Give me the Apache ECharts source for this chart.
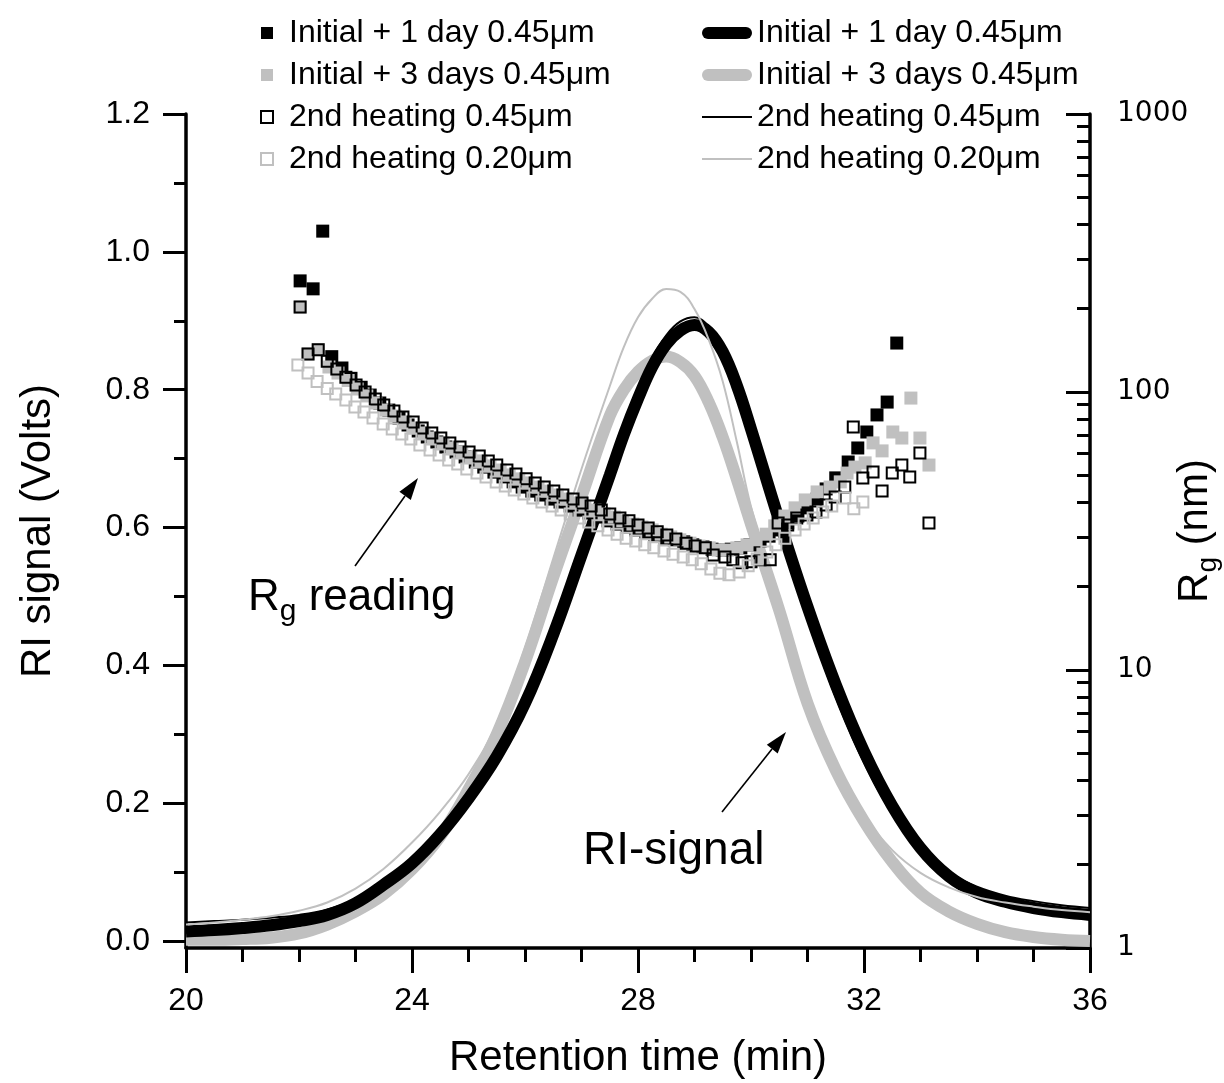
<!DOCTYPE html>
<html>
<head>
<meta charset="utf-8">
<script src="https://cdn.jsdelivr.net/npm/echarts@6/dist/echarts.min.js"></script>
<style>
html, body { margin: 0; padding: 0; background: #fff; }
#chart { width: 1224px; height: 1083px; }
</style>
</head>
<body>
<div id="chart"></div>
<script>
// series names (legend labels)
const nameDay1 = 'Initial + 1 day 0.45μm';
const nameDay3 = 'Initial + 3 days 0.45μm';
const nameHeat45 = '2nd heating 0.45μm';
const nameHeat20 = '2nd heating 0.20μm';

// RI signal (left axis, Volts) vs retention time (min)
const riTime = [20, 20.5, 21, 21.5, 22, 22.5, 23, 23.5, 24, 24.5, 25, 25.5, 26, 26.5, 27, 27.5,
  27.75, 28, 28.25, 28.5, 28.75, 29, 29.25, 29.5, 29.75, 30,
  30.5, 31, 31.5, 32, 32.5, 33, 33.5, 34, 34.5, 35, 35.5, 36];
const riDay1 = [0.014, 0.016, 0.019, 0.023, 0.029, 0.038, 0.055, 0.082, 0.113, 0.155, 0.207, 0.268, 0.345, 0.445, 0.560, 0.676,
  0.735, 0.787, 0.833, 0.866, 0.886, 0.894, 0.884, 0.855, 0.806, 0.743,
  0.610, 0.485, 0.372, 0.275, 0.196, 0.135, 0.094, 0.070, 0.057, 0.048, 0.042, 0.038];
const riDay3 = [0.002, 0.002, 0.003, 0.005, 0.011, 0.024, 0.043, 0.068, 0.104, 0.152, 0.220, 0.300, 0.405, 0.528, 0.645, 0.762,
  0.800, 0.826, 0.842, 0.848, 0.840, 0.820, 0.782, 0.731, 0.670, 0.605,
  0.480, 0.345, 0.248, 0.174, 0.115, 0.070, 0.043, 0.025, 0.013, 0.006, 0.002, 0.000];
const riHeat45 = [0.027, 0.029, 0.031, 0.034, 0.038, 0.046, 0.061, 0.086, 0.117, 0.160, 0.213, 0.275, 0.352, 0.455, 0.572, 0.690,
  0.748, 0.800, 0.846, 0.879, 0.899, 0.905, 0.892, 0.857, 0.803, 0.736,
  0.596, 0.468, 0.354, 0.259, 0.185, 0.132, 0.099, 0.079, 0.066, 0.058, 0.052, 0.048];
const riHeat20 = [0.024, 0.027, 0.031, 0.036, 0.044, 0.056, 0.076, 0.105, 0.143, 0.188, 0.242, 0.315, 0.425, 0.555, 0.685, 0.805,
  0.862, 0.905, 0.932, 0.946, 0.942, 0.917, 0.873, 0.812, 0.724, 0.630,
  0.490, 0.355, 0.258, 0.182, 0.132, 0.099, 0.078, 0.064, 0.056, 0.050, 0.045, 0.042];

// Rg readings (right log axis, nm): [time, Rg]
const rgDay1 = [[22.02, 251], [22.25, 235], [22.42, 379], [22.58, 134], [22.76, 122], [22.92, 112], [23.10, 104],
  [23.26, 97.5], [23.43, 91.3], [23.59, 86.1], [23.77, 80.6], [23.93, 76.1], [24.11, 72.4], [24.27, 68.9],
  [24.44, 66.1], [24.60, 63.4], [24.78, 60.8], [24.94, 58.4], [25.12, 56.0], [25.27, 53.7], [25.45, 51.5],
  [25.61, 49.5], [25.79, 47.5], [25.95, 45.5], [26.12, 44.0], [26.28, 42.6], [26.46, 41.2], [26.62, 40.2],
  [26.80, 38.9], [26.96, 37.6], [27.13, 36.7], [27.29, 35.5], [27.47, 34.4], [27.63, 33.5], [27.81, 32.7],
  [27.96, 31.9], [28.14, 31.1], [28.30, 30.6], [28.48, 29.8], [28.64, 29.4], [28.81, 28.9], [28.97, 28.2],
  [29.15, 27.7], [29.31, 27.2], [29.49, 27.0], [29.65, 27.2], [29.82, 27.5], [29.98, 28.2], [30.16, 29.1],
  [30.32, 30.3], [30.50, 31.9], [30.65, 33.8], [30.83, 35.8], [30.99, 38.3], [31.17, 41.2], [31.33, 44.8],
  [31.50, 49.1], [31.72, 56.0], [31.89, 62.9], [32.05, 71.8], [32.23, 82.7], [32.41, 92.0], [32.58, 150]];
const rgDay3 = [[22.02, 202], [22.16, 137], [22.34, 142], [22.53, 123], [22.69, 117], [22.87, 110], [23.03, 102.5],
  [23.20, 96.8], [23.36, 91.3], [23.54, 86.1], [23.70, 82.0], [23.88, 78.0], [24.04, 74.2], [24.21, 71.2],
  [24.37, 68.3], [24.55, 65.6], [24.71, 62.9], [24.88, 60.8], [25.04, 58.4], [25.22, 56.5], [25.38, 54.2],
  [25.56, 52.4], [25.72, 50.3], [25.89, 48.7], [26.05, 47.1], [26.23, 45.5], [26.39, 44.0], [26.57, 42.6],
  [26.73, 41.2], [26.90, 39.9], [27.06, 38.9], [27.24, 37.6], [27.40, 36.4], [27.58, 35.5], [27.73, 34.4],
  [27.91, 33.5], [28.07, 32.7], [28.25, 31.9], [28.41, 30.8], [28.58, 30.1], [28.74, 29.4], [28.92, 28.6],
  [29.08, 27.9], [29.26, 27.5], [29.42, 27.0], [29.59, 27.0], [29.75, 27.5], [29.93, 28.2], [30.09, 29.4],
  [30.27, 30.8], [30.42, 33.0], [30.60, 35.8], [30.78, 38.3], [30.96, 40.9], [31.17, 43.7], [31.40, 45.5],
  [31.58, 47.5], [31.70, 51.1], [31.84, 53.7], [32.02, 55.6], [32.16, 65.6], [32.32, 61.4], [32.51, 71.8],
  [32.67, 68.3], [32.83, 95.1], [32.99, 68.3], [33.15, 54.6]];
const rgHeat45 = [[22.02, 202], [22.16, 137], [22.34, 142], [22.50, 129], [22.67, 121], [22.83, 113], [23.01, 106],
  [23.17, 100], [23.35, 94.4], [23.50, 89.8], [23.68, 85.5], [23.84, 81.3], [24.02, 78.0], [24.18, 74.2],
  [24.35, 71.2], [24.51, 68.3], [24.67, 65.6], [24.85, 63.4], [25.01, 60.8], [25.19, 58.9], [25.35, 56.5],
  [25.50, 54.6], [25.68, 52.4], [25.84, 50.7], [26.02, 48.7], [26.18, 47.1], [26.34, 45.5], [26.51, 44.0],
  [26.67, 42.6], [26.85, 41.2], [27.01, 39.9], [27.17, 38.9], [27.35, 37.6], [27.50, 36.4], [27.68, 35.2],
  [27.84, 34.4], [28.00, 33.2], [28.18, 32.4], [28.34, 31.4], [28.51, 30.6], [28.67, 29.6], [28.85, 28.6],
  [29.01, 27.9], [29.19, 27.5], [29.33, 25.9], [29.54, 25.5], [29.68, 24.9], [29.84, 24.3], [30.00, 24.5],
  [30.16, 24.9], [30.34, 24.9], [30.48, 33.8], [30.65, 33.2], [30.81, 35.2], [30.99, 36.1], [31.15, 37.0],
  [31.33, 39.2], [31.49, 41.9], [31.66, 45.5], [31.81, 74.8], [31.98, 49.1], [32.16, 51.6], [32.32, 44.0],
  [32.50, 51.1], [32.67, 54.6], [32.81, 49.5], [32.99, 60.3], [33.15, 33.8]];
const rgHeat20 = [[21.98, 125], [22.16, 117], [22.32, 109], [22.50, 103], [22.65, 98.4], [22.83, 93.6], [22.99, 88.3],
  [23.15, 84.7], [23.31, 80.6], [23.49, 76.7], [23.65, 73.6], [23.82, 70.6], [23.98, 67.7], [24.14, 64.5],
  [24.32, 61.8], [24.48, 59.3], [24.65, 56.9], [24.81, 55.1], [24.97, 52.8], [25.15, 51.1], [25.31, 49.5],
  [25.49, 47.5], [25.65, 45.9], [25.81, 44.4], [25.98, 43.0], [26.14, 41.6], [26.30, 40.2], [26.48, 38.9],
  [26.64, 37.6], [26.80, 36.4], [26.97, 35.2], [27.13, 34.1], [27.29, 33.0], [27.47, 31.9], [27.63, 30.8],
  [27.79, 29.8], [27.96, 29.1], [28.12, 28.2], [28.28, 27.5], [28.46, 26.8], [28.62, 26.1], [28.80, 25.5],
  [28.96, 24.9], [29.12, 24.1], [29.29, 23.1], [29.45, 22.3], [29.61, 22.0], [29.79, 22.5], [29.95, 23.7],
  [30.11, 25.1], [30.28, 26.6], [30.44, 28.2], [30.60, 29.8], [30.78, 31.9], [30.94, 33.5], [31.10, 35.2],
  [31.27, 37.0], [31.43, 38.9], [31.66, 41.6], [31.82, 38.0], [31.98, 40.2]];

// axis ticks
const riTicks = [0, 0.2, 0.4, 0.6, 0.8, 1.0, 1.2];
const riMinorTicks = [0.1, 0.3, 0.5, 0.7, 0.9, 1.1];
const rgMinorTicks = [2, 3, 4, 5, 6, 7, 8, 9, 20, 30, 40, 50, 60, 70, 80, 90, 200, 300, 400, 500, 600, 700, 800, 900];

const FONT = '"Liberation Sans", Arial, sans-serif';
const BLACK = '#000000';
const GRAY = '#c0c0c0';

const chart = echarts.init(document.getElementById('chart'), null, { renderer: 'canvas' });

const squareIcon = 'path://M0,0H10V10H0Z';
const thickIcon = 'path://M6,0H44A6,6,0,0,1,44,12H6A6,6,0,0,1,6,0Z';
const thinIcon = 'path://M0,0H50V2H0Z';

const lineSeries = (name, values, color, width) => ({
  name: 'RI ' + name,
  type: 'line',
  xAxisIndex: 0,
  yAxisIndex: 0,
  data: riTime.map((t, i) => [t, values[i]]),
  symbol: 'none',
  smooth: 0.4,
  lineStyle: { color: color, width: width, opacity: 1 },
  itemStyle: { color: color },
  z: 2
});

const scatterSeries = (name, points, color, hollow) => ({
  name: name,
  type: 'scatter',
  xAxisIndex: 0,
  yAxisIndex: 1,
  data: points,
  symbol: 'rect',
  symbolSize: hollow ? 11 : 13,
  itemStyle: hollow
    ? { color: 'rgba(0,0,0,0)', borderColor: color, borderWidth: 2, opacity: 1 }
    : { color: color, opacity: 1 },
  z: 3
});

const option = {
  animation: false,
  backgroundColor: '#fff',
  textStyle: { fontFamily: FONT, color: BLACK },
  grid: { left: 186, right: 134, top: 114, bottom: 135, outerBoundsMode: 'none', containLabel: false },
  legend: [
    {
      orient: 'vertical',
      left: 255,
      top: 11,
      itemWidth: 34,
      itemHeight: 12,
      itemGap: 8,
      selectedMode: false,
      textStyle: { fontFamily: FONT, fontSize: 32, lineHeight: 34, color: BLACK },
      data: [
        { name: nameDay1, icon: squareIcon, itemStyle: { color: BLACK, opacity: 1 } },
        { name: nameDay3, icon: squareIcon, itemStyle: { color: GRAY, opacity: 1 } },
        { name: nameHeat45, icon: squareIcon, itemStyle: { color: 'rgba(0,0,0,0)', borderColor: BLACK, borderWidth: 2, opacity: 1 } },
        { name: nameHeat20, icon: squareIcon, itemStyle: { color: 'rgba(0,0,0,0)', borderColor: GRAY, borderWidth: 2, opacity: 1 } }
      ]
    },
    {
      orient: 'vertical',
      left: 697,
      top: 11,
      itemWidth: 50,
      itemHeight: 12,
      itemGap: 8,
      selectedMode: false,
      formatter: n => n.slice(3),
      textStyle: { fontFamily: FONT, fontSize: 32, lineHeight: 34, color: BLACK },
      data: [
        { name: 'RI ' + nameDay1, icon: thickIcon, itemStyle: { borderWidth: 0 } },
        { name: 'RI ' + nameDay3, icon: thickIcon, itemStyle: { borderWidth: 0 } },
        { name: 'RI ' + nameHeat45, icon: thinIcon, itemStyle: { borderWidth: 0 } },
        { name: 'RI ' + nameHeat20, icon: thinIcon, itemStyle: { borderWidth: 0 } }
      ]
    }
  ],
  xAxis: [{
    type: 'value',
    min: 20,
    max: 36,
    interval: 4,
    name: 'Retention time (min)',
    nameLocation: 'middle',
    nameGap: 89,
    nameMoveOverlap: false,
    nameTextStyle: { fontFamily: FONT, fontSize: 42, color: BLACK },
    axisLine: { onZero: false, lineStyle: { color: BLACK, width: 3.5 } },
    axisTick: { inside: false, length: 25, lineStyle: { color: BLACK, width: 3 } },
    minorTick: { show: true, splitNumber: 4, length: 14, lineStyle: { color: BLACK, width: 3 } },
    axisLabel: { fontFamily: FONT, fontSize: 32, color: BLACK, margin: 37 },
    splitLine: { show: false }
  }],
  yAxis: [
    {
      type: 'value',
      position: 'left',
      min: -0.01,
      max: 1.2,
      name: 'RI signal (Volts)',
      nameLocation: 'middle',
      nameGap: 127,
      nameMoveOverlap: false,
      nameTextStyle: { fontFamily: FONT, fontSize: 42, color: BLACK },
      axisLine: { show: true, lineStyle: { color: BLACK, width: 3.5 } },
      axisTick: { show: true, inside: false, length: 23, customValues: riTicks, lineStyle: { color: BLACK, width: 3 } },
      axisLabel: {
        fontFamily: FONT, fontSize: 32, color: BLACK, margin: 36,
        customValues: riTicks,
        formatter: v => v.toFixed(1)
      },
      splitLine: { show: false }
    },
    {
      type: 'log',
      logBase: 10,
      position: 'right',
      min: 1,
      max: 1000,
      name: '{r|R}{s|g}{r| (nm)}',
      nameLocation: 'middle',
      nameGap: 78,
      nameMoveOverlap: false,
      nameTextStyle: {
        color: BLACK,
        rich: {
          r: { fontFamily: FONT, fontSize: 42, color: BLACK },
          s: { fontFamily: FONT, fontSize: 28, color: BLACK, padding: [26, 0, 0, 0] }
        }
      },
      axisLine: { show: true, lineStyle: { color: BLACK, width: 3.5 } },
      axisTick: { show: true, inside: true, length: 24, lineStyle: { color: BLACK, width: 3 } },
      axisLabel: {
        fontFamily: '"DejaVu Sans", sans-serif', fontSize: 28, color: BLACK, margin: 27,
        formatter: v => String(Math.round(v))
      },
      splitLine: { show: false }
    },
    {
      // minor ticks of the RI axis
      type: 'value',
      position: 'left',
      min: -0.01,
      max: 1.2,
      axisLine: { show: false },
      axisTick: { show: true, inside: false, length: 12, customValues: riMinorTicks, lineStyle: { color: BLACK, width: 3 } },
      axisLabel: { show: false },
      splitLine: { show: false }
    },
    {
      // minor ticks of the log Rg axis (in decades)
      type: 'value',
      position: 'right',
      min: 0,
      max: 3,
      axisLine: { show: false },
      axisTick: { show: true, inside: true, length: 13, customValues: rgMinorTicks.map(v => Math.log10(v)), lineStyle: { color: BLACK, width: 3 } },
      axisLabel: { show: false },
      splitLine: { show: false }
    }
  ],
  series: [
    lineSeries(nameDay3, riDay3, GRAY, 12),
    lineSeries(nameDay1, riDay1, BLACK, 12),
    lineSeries(nameHeat45, riHeat45, BLACK, 2),
    lineSeries(nameHeat20, riHeat20, GRAY, 2),
    scatterSeries(nameDay1, rgDay1, BLACK, false),
    scatterSeries(nameDay3, rgDay3, GRAY, false),
    scatterSeries(nameHeat45, rgHeat45, BLACK, true),
    scatterSeries(nameHeat20, rgHeat20, GRAY, true)
  ],
  graphic: [
    { type: 'line', shape: { x1: 355, y1: 566, x2: 405, y2: 496 }, style: { stroke: BLACK, lineWidth: 1.6 }, z: 10 },
    { type: 'polygon', shape: { points: [[418, 478], [410.8, 499.9], [399.4, 491.7]] }, style: { fill: BLACK }, z: 10 },
    { type: 'line', shape: { x1: 722, y1: 812, x2: 772, y2: 749 }, style: { stroke: BLACK, lineWidth: 1.6 }, z: 10 },
    { type: 'polygon', shape: { points: [[786, 732], [777.7, 753.6], [766.8, 744.8]] }, style: { fill: BLACK }, z: 10 },
    {
      type: 'text', left: 248, top: 576, z: 10,
      style: {
        text: '{r|R}{s|g}{r| reading}',
        rich: {
          r: { fontFamily: FONT, fontSize: 44, fill: BLACK },
          s: { fontFamily: FONT, fontSize: 30, fill: BLACK, padding: [28, 0, 0, 0] }
        }
      }
    },
    {
      type: 'text', left: 583, top: 828, z: 10,
      style: { text: 'RI-signal', fontFamily: FONT, fontSize: 46, fill: BLACK }
    }
  ]
};

chart.setOption(option);
</script>
</body>
</html>
